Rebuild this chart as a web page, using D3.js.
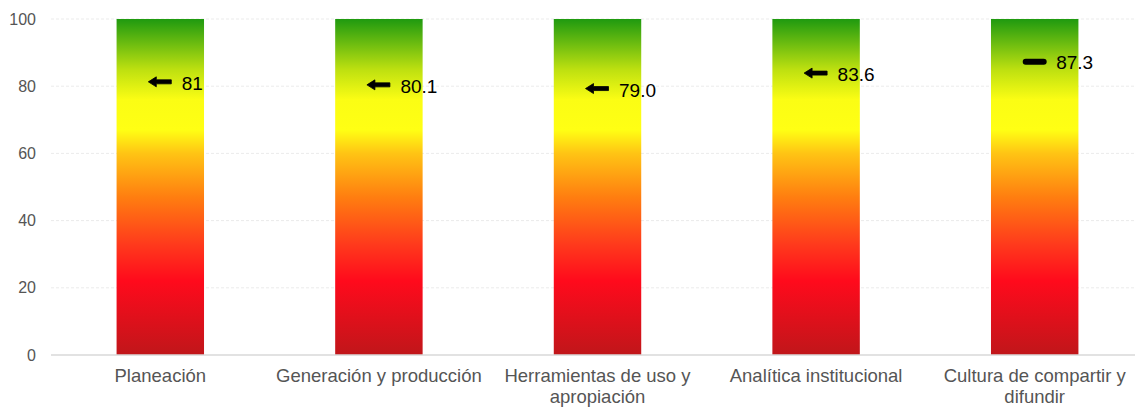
<!DOCTYPE html>
<html>
<head>
<meta charset="utf-8">
<script src="https://cdn.jsdelivr.net/npm/d3@7"></script>
<style>
  body { margin: 0; background: #fff; }
  svg text { font-family: "Liberation Sans", Arial, Helvetica, sans-serif; }
</style>
</head>
<body>
<div id="chart"></div>
<script>
const categories = ["Planeación", "Generación y producción", "Herramientas de uso y apropiación", "Analítica institucional", "Cultura de compartir y difundir"];
const scores = [81, 80.1, 79.0, 83.6, 87.3];
const scoreLabels = ["81", "80.1", "79.0", "83.6", "87.3"];
const markerKinds = ["arrow", "arrow", "arrow", "arrow", "dash"];
const yTicks = [0, 20, 40, 60, 80, 100];

const width = 1135, height = 407;
const plot = { left: 51, right: 1144, top: 19, bottom: 355 };

const svg = d3.select("#chart").append("svg")
  .attr("width", width)
  .attr("height", height);

// gradient used by every bar
const grad = svg.append("defs").append("linearGradient")
  .attr("id", "scale-grad")
  .attr("x1", 0).attr("y1", 1).attr("x2", 0).attr("y2", 0);
[
  [0, "#c0161a"], [0.22, "#ff0a1c"], [0.33, "#ff3a1c"], [0.47, "#ff7e10"],
  [0.6, "#ffc414"], [0.67, "#ffff14"], [0.76, "#fbfd14"], [0.85, "#bde010"],
  [1, "#1f9a10"]
].forEach(([o, c]) => grad.append("stop").attr("offset", o).attr("stop-color", c));

const x = d3.scaleBand().domain(categories).range([plot.left, plot.right])
  .paddingInner(0.6).paddingOuter(0.3);
const y = d3.scaleLinear().domain([0, 100]).range([plot.bottom, plot.top]);

// grid lines
svg.append("g")
  .selectAll("line")
  .data(yTicks.filter(d => d > 0))
  .join("line")
  .attr("x1", plot.left).attr("x2", width)
  .attr("y1", d => y(d)).attr("y2", d => y(d))
  .attr("stroke", "#ebebeb")
  .attr("stroke-dasharray", "3,2");

// y axis labels
const yAxis = svg.append("g")
  .attr("transform", `translate(${plot.left},0)`)
  .call(d3.axisLeft(y).tickValues(yTicks).tickSize(0).tickPadding(15));
yAxis.select(".domain").remove();
yAxis.selectAll("text")
  .attr("fill", "#555")
  .style("font-size", "16px");

// bars
svg.append("g")
  .selectAll("rect")
  .data(categories)
  .join("rect")
  .attr("x", d => x(d))
  .attr("y", y(100))
  .attr("width", x.bandwidth())
  .attr("height", y(0) - y(100))
  .attr("fill", "url(#scale-grad)");

// baseline
svg.append("line")
  .attr("x1", plot.left).attr("x2", width)
  .attr("y1", y(0)).attr("y2", y(0))
  .attr("stroke", "#d9d9d9")
  .attr("stroke-width", 1.5);

// x axis labels, wrapped to band step
const xAxis = svg.append("g")
  .attr("transform", `translate(0,${plot.bottom})`)
  .call(d3.axisBottom(x).tickSize(0).tickPadding(14));
xAxis.select(".domain").remove();
xAxis.selectAll("text")
  .attr("fill", "#555")
  .style("font-size", "18.5px")
  .call(wrap, x.step() - 4);

function wrap(texts, maxW) {
  texts.each(function () {
    const text = d3.select(this);
    const words = text.text().split(/\s+/);
    const ty = text.attr("y"), dy = parseFloat(text.attr("dy"));
    text.text(null);
    let line = [];
    let tspan = text.append("tspan").attr("x", 0).attr("y", ty).attr("dy", dy + "em");
    let lineNo = 0;
    for (const w of words) {
      line.push(w);
      tspan.text(line.join(" "));
      if (tspan.node().getComputedTextLength() > maxW && line.length > 1) {
        line.pop();
        tspan.text(line.join(" "));
        line = [w];
        lineNo++;
        tspan = text.append("tspan").attr("x", 0).attr("y", ty)
          .attr("dy", (lineNo * 1.13 + dy) + "em").text(w);
      }
    }
  });
}

// markers
const markers = svg.append("g")
  .selectAll("g")
  .data(categories.map((c, i) => ({ c, v: scores[i], label: scoreLabels[i], kind: markerKinds[i] })))
  .join("g")
  .attr("transform", d => `translate(${x(d.c) + x.bandwidth() / 2},${y(d.v)})`);

markers.filter(d => d.kind === "arrow").append("path")
  .attr("d", "M-12,-1 L-4,-6 L-4,-3 L11,-3 L11,1 L-4,1 L-4,4 Z")
  .attr("fill", "#000")
  .attr("stroke", "#000")
  .attr("stroke-width", 0.8)
  .attr("stroke-linejoin", "round");

markers.filter(d => d.kind === "dash").append("line")
  .attr("x1", -9).attr("x2", 9)
  .attr("stroke", "#000")
  .attr("stroke-width", 6)
  .attr("stroke-linecap", "round");

markers.append("text")
  .attr("x", 21.5)
  .attr("y", 7)
  .attr("fill", "#000")
  .style("font-size", "19px")
  .text(d => d.label);
</script>
</body>
</html>
